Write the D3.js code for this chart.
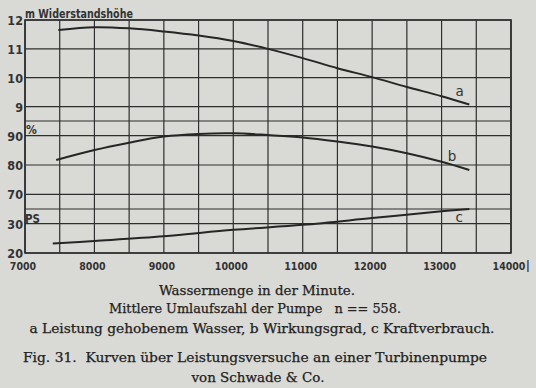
<!DOCTYPE html>
<html>
<head>
<meta charset="utf-8">
<script src="https://cdn.jsdelivr.net/npm/d3@7"></script>
<style>
  body { margin:0; background:#d9d9d5; }
  svg { display:block; }
</style>
</head>
<body>
<div id="chart"></div>
<script>
/* Kurven ueber Leistungsversuche - Fig. 31 */

// x: Wassermenge in der Minute (l)
var xLabels = [7000, 8000, 9000, 10000, 11000, 12000, 13000, 14000];

// a: Widerstandshoehe (m)
var flowA = [7480, 8000, 8500, 9000, 9500, 10000, 10500, 11000, 11500, 12000, 12500, 13000, 13400];
var headA = [11.65, 11.75, 11.71, 11.6, 11.46, 11.27, 11.0, 10.68, 10.33, 10.02, 9.68, 9.36, 9.07];

// b: Wirkungsgrad (%)
var flowB = [7450, 8000, 8500, 9000, 9500, 10000, 10500, 11000, 11500, 12000, 12500, 13000, 13400];
var effB = [81.7, 85.1, 87.6, 89.7, 90.6, 90.8, 90.2, 89.4, 88.0, 86.3, 84.0, 81.1, 78.3];

// c: Kraftverbrauch (PS)
var flowC = [7400, 8000, 9000, 10000, 11000, 12000, 13000, 13400];
var powerC = [23.2, 24.1, 25.7, 27.9, 29.6, 31.9, 34.2, 35.0];

var ticksA = [9, 10, 11, 12];
var ticksB = [70, 80, 90];
var ticksC = [20, 30];

var W = 536, H = 388;
var ink = "#2e2e2e";

var svg = d3.select("#chart").append("svg")
  .attr("width", W)
  .attr("height", H);

svg.append("rect").attr("width", W).attr("height", H).attr("fill", "#d9d9d5");

/* scales - three stacked sections sharing one x scale */
var x = d3.scaleLinear().domain([7000, 14000]).range([25, 511]);
var yA = d3.scaleLinear().domain([8.5, 12]).range([121, 20]);
var yB = d3.scaleLinear().domain([65, 95]).range([209, 121]);
var yC = d3.scaleLinear().domain([20, 35]).range([253, 209]);

var grid = svg.append("g").attr("stroke", ink).attr("stroke-width", 1.2);

// vertical grid every 500 l
grid.selectAll("line.v")
  .data(d3.range(7000, 14001, 500))
  .enter().append("line")
    .attr("x1", d => x(d)).attr("x2", d => x(d))
    .attr("y1", 20).attr("y2", 253);

// horizontal grid
var hLines = ticksA.map(d => yA(d))
  .concat([yA(8.5)])
  .concat(ticksB.map(d => yB(d)))
  .concat([yB(65)])
  .concat(ticksC.map(d => yC(d)));

grid.selectAll("line.h")
  .data(hLines)
  .enter().append("line")
    .attr("x1", 25).attr("x2", 511)
    .attr("y1", d => d).attr("y2", d => d);

// frame
svg.append("rect")
  .attr("x", 25).attr("y", 20)
  .attr("width", 486).attr("height", 233)
  .attr("fill", "none").attr("stroke", ink).attr("stroke-width", 1.6);

/* tick labels */
var tickFont = "'DejaVu Sans Condensed', 'DejaVu Sans', sans-serif";

var yTicks = ticksA.map(d => ({t: d, y: yA(d)}))
  .concat(ticksB.map(d => ({t: d, y: yB(d)})))
  .concat(ticksC.map(d => ({t: d, y: yC(d)})));

svg.append("g").selectAll("text")
  .data(yTicks)
  .enter().append("text")
    .attr("x", 23).attr("y", d => d.y + 5)
    .attr("text-anchor", "end")
    .attr("font-family", tickFont)
    .attr("font-weight", "bold")
    .attr("font-size", "12.5px")
    .attr("fill", "#333")
    .text(d => d.t);

svg.append("g").selectAll("text")
  .data(xLabels)
  .enter().append("text")
    .attr("x", d => x(d) - 2).attr("y", 270)
    .attr("text-anchor", "middle")
    .attr("font-family", tickFont)
    .attr("font-weight", "bold")
    .attr("font-size", "10.5px")
    .attr("fill", "#333")
    .text(d => d);

svg.append("text")
  .attr("x", 526).attr("y", 272)
  .attr("font-family", tickFont)
  .attr("font-size", "15px")
  .attr("fill", "#333")
  .text("l");

// unit labels
function unit(tx, ty, s, size, len) {
  var t = svg.append("text")
    .attr("x", tx).attr("y", ty)
    .attr("font-family", tickFont)
    .attr("font-weight", "bold")
    .attr("font-size", size)
    .attr("fill", "#333")
    .text(s);
  if (len) t.attr("textLength", len).attr("lengthAdjust", "spacingAndGlyphs");
}
unit(25, 17.5, "m Widerstandshöhe", "12.5px", 108);
unit(26, 134, "%", "12px");
unit(25, 222.5, "PS", "13px", 15);

/* curves */
var lineA = d3.line().x((d, i) => x(flowA[i])).y(d => yA(d)).curve(d3.curveCatmullRom);
var lineB = d3.line().x((d, i) => x(flowB[i])).y(d => yB(d)).curve(d3.curveCatmullRom);
var lineC = d3.line().x((d, i) => x(flowC[i])).y(d => yC(d)).curve(d3.curveCatmullRom);

[[headA, lineA], [effB, lineB], [powerC, lineC]].forEach(function(p) {
  svg.append("path")
    .datum(p[0])
    .attr("d", p[1])
    .attr("fill", "none")
    .attr("stroke", "#262626")
    .attr("stroke-width", 2);
});

// curve letters
var letterFont = "'DejaVu Sans', sans-serif";
[["a", x(13200), yA(9.38)], ["b", x(13090), yB(81.5)], ["c", x(13200), yC(30.6)]].forEach(function(l) {
  svg.append("text")
    .attr("x", l[1]).attr("y", l[2])
    .attr("font-family", letterFont)
    .attr("font-size", "13.5px")
    .attr("fill", "#333")
    .text(l[0]);
});

/* caption */
var serif = "'DejaVu Serif', serif";
var caption = [
  {s: "Wassermenge in der Minute.", cx: 257, y: 295, w: 196},
  {s: "Mittlere Umlaufszahl der Pumpe   n == 558.", cx: 255, y: 313, w: 292},
  {s: "a Leistung gehobenem Wasser, b Wirkungsgrad, c Kraftverbrauch.", cx: 262, y: 333, w: 465},
  {s: "Fig. 31.  Kurven über Leistungsversuche an einer Turbinenpumpe", cx: 255, y: 362, w: 464},
  {s: "von Schwade & Co.", cx: 258, y: 381.5, w: 133}
];

svg.append("g").selectAll("text")
  .data(caption)
  .enter().append("text")
    .attr("x", d => d.cx - d.w / 2).attr("y", d => d.y)
    .attr("textLength", d => d.w)
    .attr("lengthAdjust", "spacingAndGlyphs")
    .attr("font-family", serif)
    .attr("font-size", "12.5px")
    .attr("fill", "#222")
    .attr("stroke", "#222")
    .attr("stroke-width", 0.25)
    .style("white-space", "pre")
    .text(d => d.s);
</script>
</body>
</html>
